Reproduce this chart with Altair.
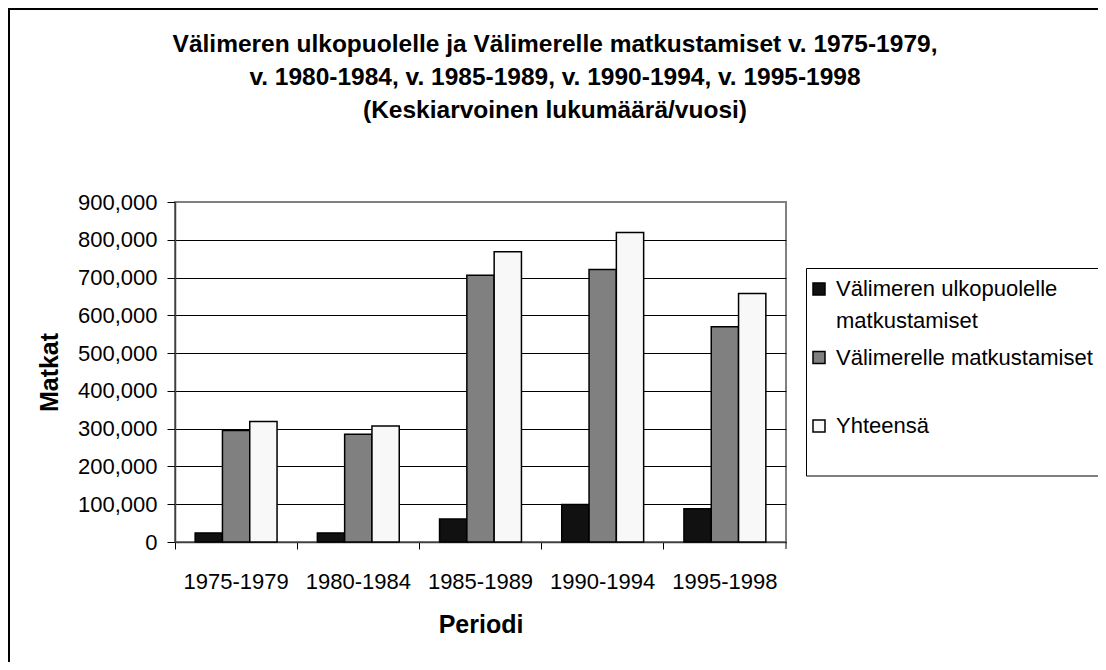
import altair as alt
import pandas as pd

periods = ["1975-1979", "1980-1984", "1985-1989", "1990-1994", "1995-1998"]
series = ["Välimeren ulkopuolelle matkustamiset", "Välimerelle matkustamiset", "Yhteensä"]
outside = [24000, 24000, 61000, 99500, 88000]
mediterranean = [295000, 285000, 706000, 721000, 570000]
total = [319000, 307000, 768000, 819000, 658000]
colors = ["#111111", "#808080", "#f8f8f8"]
y_ticks = [0, 100000, 200000, 300000, 400000, 500000, 600000, 700000, 800000, 900000]
title_lines = [
    "Välimeren ulkopuolelle ja Välimerelle matkustamiset v. 1975-1979,",
    "v. 1980-1984, v. 1985-1989, v. 1990-1994, v. 1995-1998",
    "(Keskiarvoinen lukumäärä/vuosi)",
]

rows = []
for s, vals in zip(series, [outside, mediterranean, total]):
    for p, v in zip(periods, vals):
        rows.append({"Periodi": p, "Sarja": s, "Matkat": v})
df = pd.DataFrame(rows)

FONT = "Liberation Sans"

label_expr = (
    "datum.label == 'Välimeren ulkopuolelle matkustamiset' ? "
    "['Välimeren ulkopuolelle', 'matkustamiset'] : [datum.label, '']"
)

bars = alt.Chart(df).mark_bar(stroke="black", strokeWidth=1.5).encode(
    x=alt.X(
        "Periodi:N",
        sort=periods,
        scale=alt.Scale(paddingInner=0, paddingOuter=0),
        axis=alt.Axis(
            title="Periodi",
            labelAngle=0,
            bandPosition=0,
            tickSize=7,
            labelPadding=22,
            titlePadding=20,
            grid=False,
        ),
    ),
    xOffset=alt.XOffset(
        "Sarja:N", sort=series, scale=alt.Scale(paddingInner=0, paddingOuter=0.738)
    ),
    y=alt.Y(
        "Matkat:Q",
        scale=alt.Scale(domain=[0, 900000], nice=False),
        axis=alt.Axis(
            title="Matkat",
            values=y_ticks,
            format=",d",
            tickSize=8,
            labelPadding=10,
            titlePadding=15,
            grid=True,
            gridColor={
                "condition": {"test": "datum.value == 900000", "value": "#808080"},
                "value": "black",
            },
        ),
    ),
    color=alt.Color(
        "Sarja:N",
        sort=series,
        scale=alt.Scale(domain=series, range=colors),
        legend=alt.Legend(
            title=None,
            orient="none",
            legendX=633,
            legendY=76,
            padding=0,
            symbolType="square",
            symbolSize=144,
            symbolStrokeColor="black",
            symbolStrokeWidth=1.5,
            symbolOpacity=1,
            labelFontSize=22,
            labelFont=FONT,
            labelColor="black",
            labelLimit=500,
            labelOffset=6,
            labelExpr=label_expr,
            rowPadding=14.5,
        ),
    ),
)

one = pd.DataFrame({"k": [0]})

frame = alt.Chart(one).mark_rect(
    fill="white", fillOpacity=0, stroke="black", strokeWidth=2
).encode(
    x=alt.value(-166), x2=alt.value(1000), y=alt.value(-193), y2=alt.value(600)
)
legend_box = alt.Chart(one).mark_rect(fill="white", stroke="black", strokeWidth=1).encode(
    x=alt.value(631.5), x2=alt.value(940), y=alt.value(66.5), y2=alt.value(274)
)
end_tick = alt.Chart(one).mark_rule(color="black", strokeWidth=1).encode(
    x=alt.value(611), y=alt.value(340), y2=alt.value(347)
)

chart = (
    alt.layer(frame, legend_box, bars, end_tick)
    .properties(
        width=611,
        height=340,
        autosize=alt.AutoSizeParams(type="none"),
        padding={"left": 167, "top": 194, "right": 312, "bottom": 120},
        title=alt.TitleParams(
            text=title_lines,
            fontSize=24.5,
            font=FONT,
            fontWeight="bold",
            color="black",
            lineHeight=33,
            anchor="middle",
            frame="group",
            dx=74.5,
            dy=115,
            offset=0,
        ),
    )
    .configure(
        font=FONT,
        background="white",
        style={"guide-label": {"lineHeight": 32}},
    )
    .configure_view(stroke="#808080", strokeWidth=2)
    .configure_axis(
        labelFont=FONT,
        titleFont=FONT,
        labelFontSize=22,
        titleFontSize=25,
        titleFontWeight="bold",
        labelColor="black",
        titleColor="black",
        tickColor="black",
        domainColor="#404040",
        domainWidth=1.5,
        gridWidth=1,
    )
)

chart.save("out.html", embed_options={"renderer": "svg", "actions": False})
